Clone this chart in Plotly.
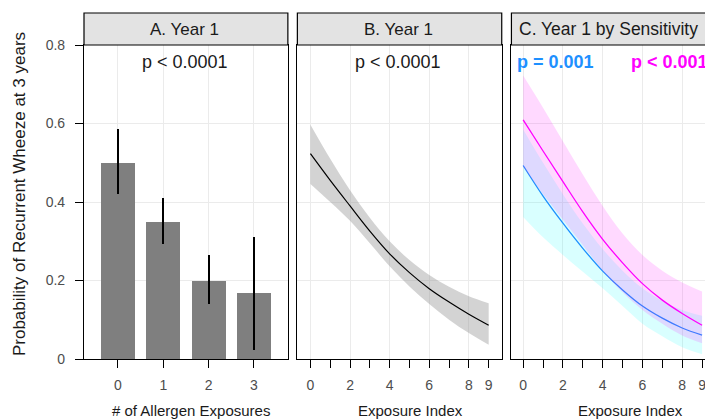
import plotly.graph_objects as go

# ---------------- data ----------------
a_categories = [0, 1, 2, 3]
a_tick_labels = ["0", "1", "2", "3"]
a_prob = [0.50, 0.35, 0.20, 0.167]
a_lower = [0.42, 0.293, 0.141, 0.023]
a_upper = [0.587, 0.41, 0.266, 0.311]

exposure_index = [0, 1, 2, 3, 4, 5, 6, 7, 8, 9]
idx_tick_vals = [0, 1, 2, 3, 4, 5, 6, 7, 8, 9]
idx_tick_text = ["0", "", "2", "", "4", "", "6", "", "8", "9"]

b_prob = [0.523, 0.455, 0.39, 0.326, 0.268, 0.22, 0.179, 0.145, 0.114, 0.086]
b_upper = [0.597, 0.51, 0.43, 0.36, 0.30, 0.252, 0.214, 0.184, 0.16, 0.142]
b_lower = [0.446, 0.40, 0.352, 0.295, 0.236, 0.185, 0.14, 0.10, 0.066, 0.036]

c_sens_prob = [0.609, 0.53, 0.452, 0.375, 0.305, 0.245, 0.192, 0.15, 0.116, 0.086]
c_sens_upper = [0.722, 0.64, 0.555, 0.47, 0.39, 0.32, 0.265, 0.225, 0.195, 0.172]
c_sens_lower = [0.49, 0.42, 0.355, 0.29, 0.225, 0.17, 0.125, 0.09, 0.06, 0.04]

c_nons_prob = [0.493, 0.415, 0.346, 0.282, 0.224, 0.176, 0.135, 0.104, 0.079, 0.061]
c_nons_upper = [0.585, 0.50, 0.42, 0.345, 0.28, 0.225, 0.18, 0.148, 0.125, 0.11]
c_nons_lower = [0.362, 0.31, 0.265, 0.222, 0.18, 0.135, 0.09, 0.058, 0.03, 0.012]

y_tick_vals = [0, 0.2, 0.4, 0.6, 0.8]
y_tick_text = ["0", "0.2", "0.4", "0.6", "0.8"]

# ---------------- layout helpers ----------------
# page body margin is removed (post_script below), so screen px == figure px;
# the right-hand panel runs past the visible window like in the reference
C_RIGHT = 716.4            # x where panel C ends (outside the window)
W = 722
H = 419
L = 84
T = 45
BOTTOM = 359
B = H - BOTTOM
R = W - C_RIGHT
PW = W - L - R
PH = H - T - B


def px(x):
    """screen x -> paper x"""
    return (x - L) / PW


def py(y):
    """screen y -> paper y"""
    return (BOTTOM - y) / PH


FONT = "Arial, Liberation Sans, sans-serif"
BLUE = "#1E90FF"
MAGENTA = "#FF00FF"

fig = go.Figure()

# Panel A bars
fig.add_trace(go.Bar(
    x=a_categories, y=a_prob, width=0.75,
    marker=dict(color="#7f7f7f", line=dict(width=0)),
    error_y=dict(type="data", symmetric=False,
                 array=[u - v for u, v in zip(a_upper, a_prob)],
                 arrayminus=[v - l for v, l in zip(a_prob, a_lower)],
                 color="black", thickness=2, width=0),
    xaxis="x", yaxis="y", showlegend=False, hoverinfo="skip"))

# Panel B ribbon + line
fig.add_trace(go.Scatter(x=exposure_index, y=b_upper, mode="lines", line=dict(width=0, shape="spline"),
                         xaxis="x2", yaxis="y2", showlegend=False, hoverinfo="skip"))
fig.add_trace(go.Scatter(x=exposure_index, y=b_lower, mode="lines", line=dict(width=0, shape="spline"),
                         fill="tonexty", fillcolor="rgba(150,150,150,0.42)",
                         xaxis="x2", yaxis="y2", showlegend=False, hoverinfo="skip"))
fig.add_trace(go.Scatter(x=exposure_index, y=b_prob, mode="lines", line=dict(width=1.2, color="black", shape="spline"),
                         xaxis="x2", yaxis="y2", showlegend=False, hoverinfo="skip"))

# Panel C: non-sensitized (blue) then sensitized (magenta)
fig.add_trace(go.Scatter(x=exposure_index, y=c_nons_upper, mode="lines", line=dict(width=0, shape="spline"),
                         xaxis="x3", yaxis="y3", showlegend=False, hoverinfo="skip"))
fig.add_trace(go.Scatter(x=exposure_index, y=c_nons_lower, mode="lines", line=dict(width=0, shape="spline"),
                         fill="tonexty", fillcolor="rgba(0,255,255,0.15)",
                         xaxis="x3", yaxis="y3", showlegend=False, hoverinfo="skip"))
fig.add_trace(go.Scatter(x=exposure_index, y=c_nons_prob, mode="lines", line=dict(width=1.3, color=BLUE, shape="spline"),
                         xaxis="x3", yaxis="y3", showlegend=False, hoverinfo="skip"))
fig.add_trace(go.Scatter(x=exposure_index, y=c_sens_upper, mode="lines", line=dict(width=0, shape="spline"),
                         xaxis="x3", yaxis="y3", showlegend=False, hoverinfo="skip"))
fig.add_trace(go.Scatter(x=exposure_index, y=c_sens_lower, mode="lines", line=dict(width=0, shape="spline"),
                         fill="tonexty", fillcolor="rgba(255,0,255,0.15)",
                         xaxis="x3", yaxis="y3", showlegend=False, hoverinfo="skip"))
fig.add_trace(go.Scatter(x=exposure_index, y=c_sens_prob, mode="lines", line=dict(width=1.3, color=MAGENTA, shape="spline"),
                         xaxis="x3", yaxis="y3", showlegend=False, hoverinfo="skip"))

GRID = "#ebebeb"
tickfont = dict(family=FONT, size=14, color="#4d4d4d")

common_x = dict(showline=True, linecolor="black", linewidth=1.2, mirror=True,
                ticks="outside", ticklen=8, tickwidth=1.2, tickcolor="black",
                tickfont=tickfont, zeroline=False, ticklabelstandoff=5,
                ticklabeloverflow="allow")

dA = [0, px(288)]
dB = [px(297.5), px(502)]
dC = [px(511.7), 1.0]

fig.update_layout(
    width=W, height=H,
    margin=dict(l=L, r=R, t=T, b=B),
    paper_bgcolor="white", plot_bgcolor="white",
    font=dict(family=FONT),
    bargap=0,
    xaxis=dict(domain=dA, range=[-0.75, 3.75], tickvals=a_categories, ticktext=a_tick_labels,
               showgrid=True, gridcolor=GRID, gridwidth=1.2, **common_x),
    xaxis2=dict(domain=dB, range=[-0.66, 9.66], tickvals=idx_tick_vals, ticktext=idx_tick_text,
                showgrid=False, minor=dict(tickvals=[0, 2, 4, 6, 8], showgrid=True, gridcolor=GRID,
                                           gridwidth=1.2, ticks=""), anchor="y2", **common_x),
    xaxis3=dict(domain=dC, range=[-0.59, 9.70], tickvals=idx_tick_vals, ticktext=idx_tick_text,
                showgrid=False, minor=dict(tickvals=[0, 2, 4, 6, 8], showgrid=True, gridcolor=GRID,
                                           gridwidth=1.2, ticks=""), anchor="y3", **common_x),
    yaxis=dict(range=[0, 0.8], tickvals=y_tick_vals, ticktext=y_tick_text,
               showline=True, linecolor="black", linewidth=1.2, mirror=True,
               ticks="outside", ticklen=8, tickwidth=1.2, tickcolor="black",
               tickfont=tickfont, ticklabelstandoff=7,
               showgrid=True, gridcolor=GRID, gridwidth=1.2, zeroline=False),
    yaxis2=dict(range=[0, 0.8], tickvals=y_tick_vals, showticklabels=False, anchor="x2",
                showline=True, linecolor="black", linewidth=1.2, mirror=True, ticks="",
                showgrid=True, gridcolor=GRID, gridwidth=1.2, zeroline=False),
    yaxis3=dict(range=[0, 0.8], tickvals=y_tick_vals, showticklabels=False, anchor="x3",
                showline=True, linecolor="black", linewidth=1.2, mirror=True, ticks="",
                showgrid=True, gridcolor=GRID, gridwidth=1.2, zeroline=False),
)

# strips
strip_top = py(13)
for xr in ("x domain", "x2 domain", "x3 domain"):
    fig.add_shape(type="rect", xref=xr, yref="paper", x0=0, x1=1, y0=1, y1=strip_top,
                  fillcolor="#e3e3e3", line=dict(color="black", width=1.2), layer="above")

sf = dict(family=FONT, size=17, color="#1a1a1a")
ys = py(29)
fig.add_annotation(text="A. Year 1", x=px(185), y=ys, xref="paper", yref="paper",
                   showarrow=False, font=sf, xanchor="center", yanchor="middle")
fig.add_annotation(text="B. Year 1", x=px(399), y=ys, xref="paper", yref="paper",
                   showarrow=False, font=sf, xanchor="center", yanchor="middle")
fig.add_annotation(text="C. Year 1 by Sensitivity", x=px(517), y=ys, xref="paper", yref="paper",
                   showarrow=False, font=dict(family=FONT, size=17.5, color="#1a1a1a"),
                   xanchor="left", yanchor="middle")

pf = dict(family=FONT, size=18, color="#1a1a1a")
yp = py(62)
fig.add_annotation(text="p < 0.0001", x=px(185), y=yp, xref="paper", yref="paper",
                   showarrow=False, font=pf, xanchor="center", yanchor="middle")
fig.add_annotation(text="p < 0.0001", x=px(398.5), y=yp, xref="paper", yref="paper",
                   showarrow=False, font=pf, xanchor="center", yanchor="middle")
fig.add_annotation(text="<b>p = 0.001</b>", x=px(515), y=yp, xref="paper", yref="paper",
                   showarrow=False, font=dict(family=FONT, size=18, color=BLUE), xanchor="left", yanchor="middle")
fig.add_annotation(text="<b>p < 0.001</b>", x=px(629), y=yp, xref="paper", yref="paper",
                   showarrow=False, font=dict(family=FONT, size=18, color=MAGENTA), xanchor="left", yanchor="middle")

# axis titles
tf = dict(family=FONT, size=15, color="#1a1a1a")
yt = py(410)
fig.add_annotation(text="# of Allergen Exposures", x=px(191), y=yt, xref="paper", yref="paper",
                   showarrow=False, font=tf, xanchor="center", yanchor="middle")
fig.add_annotation(text="Exposure Index", x=px(411), y=yt, xref="paper", yref="paper",
                   showarrow=False, font=tf, xanchor="center", yanchor="middle")
fig.add_annotation(text="Exposure Index", x=px(631), y=yt, xref="paper", yref="paper",
                   showarrow=False, font=tf, xanchor="center", yanchor="middle")
fig.add_annotation(text="Probability of Recurrent Wheeze at 3 years", x=px(19), y=py(194),
                   xref="paper", yref="paper", showarrow=False, textangle=-90,
                   font=dict(family=FONT, size=17, color="#1a1a1a"), xanchor="center", yanchor="middle")

page_css = ("document.documentElement.style.margin='0';document.documentElement.style.overflow='hidden';"
            "document.body.style.margin='0';document.body.style.overflow='hidden';")
fig.write_html("out.html", post_script=page_css, config={"displayModeBar": False})
